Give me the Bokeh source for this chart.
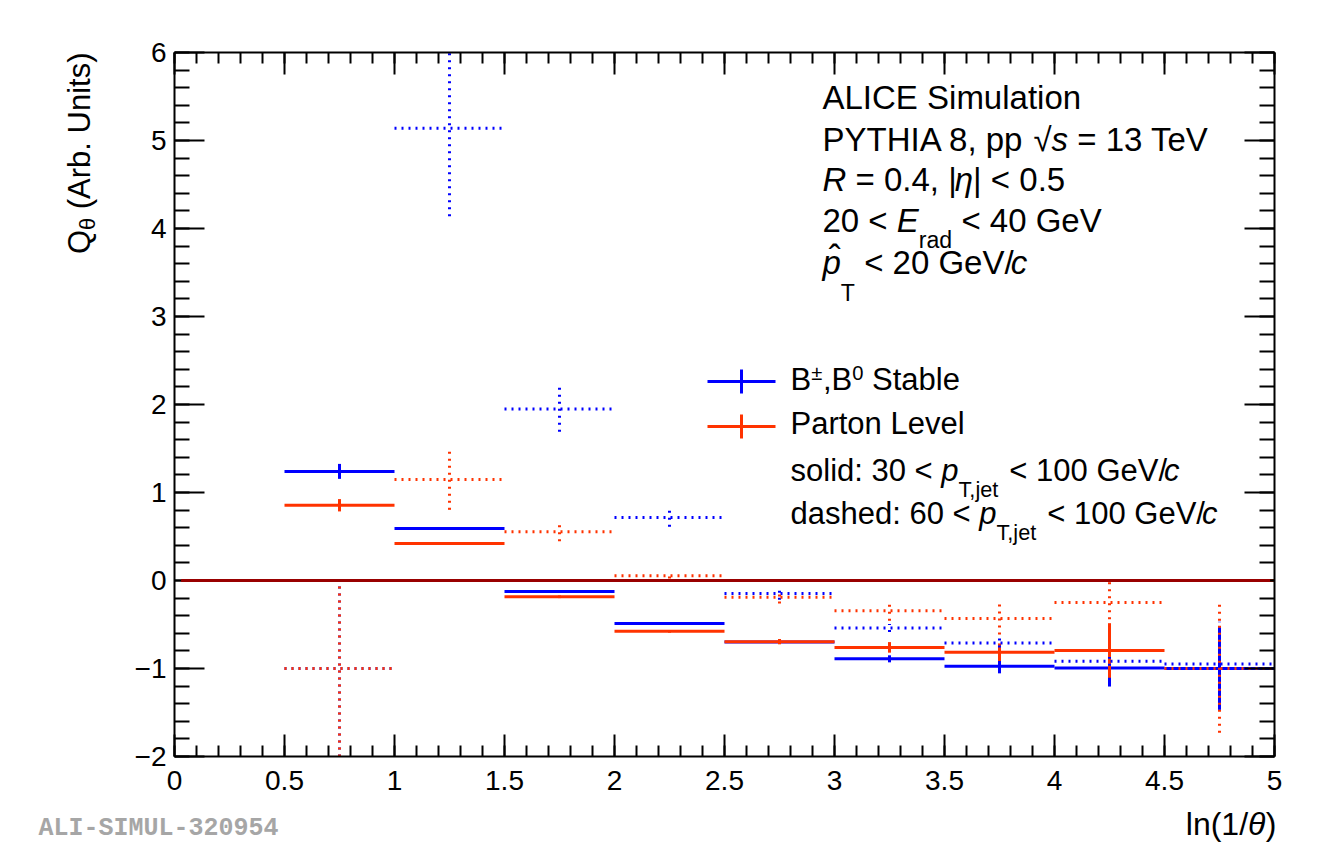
import math
from bokeh.plotting import figure
from bokeh.models import Label, SingleIntervalTicker, LinearAxis, Range1d, ColumnDataSource
from bokeh.embed import file_html
from bokeh.resources import INLINE

# ---------------- data ----------------
bin_lo = [0.5, 1.0, 1.5, 2.0, 2.5, 3.0, 3.5, 4.0, 4.5]
bin_hi = [1.0, 1.5, 2.0, 2.5, 3.0, 3.5, 4.0, 4.5, 5.0]
# B+-,B0 stable, 30 < pT,jet < 100 (solid)
b_solid = [1.24, 0.59, -0.125, -0.49, -0.70, -0.89, -0.975, -0.995, -1.0]
b_solid_err = [0.085, 0.012, 0.015, 0.015, 0.015, 0.04, 0.08, 0.21, 0.47]
# Parton level, 30 < pT,jet < 100 (solid)
r_solid = [0.855, 0.42, -0.185, -0.578, -0.695, -0.76, -0.815, -0.795, 0.0]
r_solid_err = [0.07, 0.012, 0.015, 0.015, 0.03, 0.06, 0.10, 0.31, 0.0]
# B+-,B0 stable, 60 < pT,jet < 100 (dashed)
b_dash = [-1.0, 5.14, 1.95, 0.715, -0.148, -0.54, -0.71, -0.918, -0.95]
b_dash_err = [1.0, 1.0, 0.26, 0.104, 0.07, 0.045, 0.05, 0.05, 0.48]
# Parton level, 60 < pT,jet < 100 (dashed)
r_dash = [-1.0, 1.148, 0.555, 0.053, -0.19, -0.345, -0.432, -0.25, -1.0]
r_dash_err = [1.0, 0.345, 0.11, 0.03, 0.07, 0.113, 0.183, 0.27, 0.73]

x_ticks = [0, 0.5, 1, 1.5, 2, 2.5, 3, 3.5, 4, 4.5, 5]
x_tick_labels = ["0", "0.5", "1", "1.5", "2", "2.5", "3", "3.5", "4", "4.5", "5"]
y_ticks = [-2, -1, 0, 1, 2, 3, 4, 5, 6]
y_tick_labels = ["\u22122", "\u22121", "0", "1", "2", "3", "4", "5", "6"]

BLUE = "#0000ff"
RED = "#ff3300"
ZERO = "#990000"
FONT = "Liberation Sans"

# ---------------- geometry ----------------
W, H = 1334, 845
L, R, T, B = 174, 60, 52, 89          # frame borders in pixels
X0, X1, Y0, Y1 = x_ticks[0], x_ticks[-1], y_ticks[0], y_ticks[-1]
ux = (X1 - X0) / (W - L - R)
uy = (Y1 - Y0) / (H - T - B)
XS, XE = X0 - L * ux, X1 + R * ux
YS, YE = Y0 - B * uy, Y1 + T * uy
BASE_FIX = 0.35   # baseline correction (fraction of font size)


def X(px):
    return XS + px * ux


def Y(py):
    return YE - py * uy


p = figure(width=W, height=H, x_range=Range1d(XS, XE), y_range=Range1d(YS, YE),
           output_backend="svg", toolbar_location=None, min_border=0)
p.xgrid.visible = False
p.ygrid.visible = False
p.outline_line_color = None
p.background_fill_color = "white"
p.border_fill_color = "white"


def style_axis(ax, major, minor, labels, loc, bounds):
    ax.fixed_location = loc
    ax.bounds = bounds
    ax.axis_line_width = 2
    ax.axis_line_color = "black"
    ax.major_tick_line_width = 2
    ax.minor_tick_line_width = 2
    ax.major_tick_line_color = "black"
    ax.minor_tick_line_color = "black"
    ax.major_tick_in = major
    ax.major_tick_out = 0
    ax.minor_tick_in = minor
    ax.minor_tick_out = 0
    ax.major_label_text_font = FONT
    ax.major_label_text_font_size = "28px"
    ax.major_label_text_color = "black" if labels else None


xa = p.xaxis[0]
xa.ticker = SingleIntervalTicker(interval=0.5, num_minor_ticks=5)
style_axis(xa, 22, 11, True, Y0, (X0, X1))
xa.major_label_overrides = {k: v for k, v in zip(x_ticks, x_tick_labels)}
xa.major_label_standoff = 14

ya = p.yaxis[0]
ya.ticker = SingleIntervalTicker(interval=1, num_minor_ticks=5)
style_axis(ya, 30, 15, True, X0, (Y0, Y1))
ya.major_label_overrides = {k: v for k, v in zip(y_ticks, y_tick_labels)}
ya.major_label_standoff = 8

top = LinearAxis(ticker=SingleIntervalTicker(interval=0.5, num_minor_ticks=5))
style_axis(top, 22, 11, False, Y1, (X0, X1))
p.add_layout(top, "above")
right = LinearAxis(ticker=SingleIntervalTicker(interval=1, num_minor_ticks=5))
style_axis(right, 30, 15, False, X1, (Y0, Y1))
p.add_layout(right, "right")

# ---------------- histograms with error bars ----------------
centers = [(a + b) / 2 for a, b in zip(bin_lo, bin_hi)]


def draw(vals, errs, color, dash):
    src = ColumnDataSource(dict(
        x0=bin_lo, x1=bin_hi, xc=centers, y=vals,
        ylo=[max(v - e, Y0) for v, e in zip(vals, errs)],
        yhi=[min(v + e, Y1) for v, e in zip(vals, errs)]))
    p.segment(x0="x0", x1="x1", y0="y", y1="y", source=src,
              line_color=color, line_width=3, line_dash=dash, line_cap="butt")
    p.segment(x0="xc", x1="xc", y0="ylo", y1="yhi", source=src,
              line_color=color, line_width=3, line_dash=dash, line_cap="butt")


draw(b_solid, b_solid_err, BLUE, "solid")
draw(r_solid, r_solid_err, RED, "solid")
draw(b_dash, b_dash_err, BLUE, "2 5")
draw(r_dash, r_dash_err, RED, "2 5")

# zero reference line (drawn above the tick marks)
p.segment(x0=[X0 + 0.03], x1=[X1 - 0.02], y0=[0], y1=[0], line_color=ZERO, line_width=3,
          level="overlay")

# ---------------- text helpers ----------------
AW = {' ': 278, ',': 278, '.': 278, ':': 278, '(': 333, ')': 333, '/': 278, '<': 584,
      '=': 584, '|': 260, '-': 333, '\u00b1': 584, '\u221a': 549, '\u03b8': 556,
      '\u03b7': 556}
for c in "0123456789":
    AW[c] = 556
AW.update(dict(A=667, B=667, C=722, D=722, E=667, F=611, G=778, H=722, I=278, J=500,
               K=667, L=556, M=833, N=722, O=778, P=667, Q=778, R=722, S=667, T=611,
               U=722, V=667, W=944, X=667, Y=667, Z=611))
AW.update(dict(a=556, b=556, c=500, d=556, e=556, f=278, g=556, h=556, i=222, j=222,
               k=500, l=222, m=833, n=556, o=556, p=556, q=556, r=333, s=500, t=278,
               u=556, v=500, w=722, x=500, y=500, z=500))


def tw(s, size):
    return sum(AW.get(ch, 556) for ch in s) / 1000.0 * size


def label(x_px, base_px, text, size, style="normal", color="black", align="left",
          font=FONT):
    p.add_layout(Label(x=X(x_px), y=Y(base_px - BASE_FIX * size), text=text, text_font=font,
                       text_font_size=f"{size:.1f}px", text_font_style=style,
                       text_color=color, text_align=align, text_baseline="alphabetic"))


def rich(x_px, base_px, size, pieces, color="black"):
    """pieces: (text, kind, style, dx) kind in '', 'sub', 'subT', 'sup', 'hat'"""
    x = x_px
    for piece in pieces:
        text = piece[0]
        kind = piece[1] if len(piece) > 1 else ""
        style = piece[2] if len(piece) > 2 else "normal"
        x += piece[3] if len(piece) > 3 else 0
        s = size
        dy = 0
        if kind == "sub":
            s = size * 0.7
            dy = 16
        elif kind == "subT":
            s = size * 0.7
            dy = 27
        elif kind == "sup":
            s = size * 0.65
            dy = -10
        lead = len(text) - len(text.lstrip(" "))
        xs = x + tw(" " * lead, s)
        label(xs, base_px + dy, text.strip(" "), s, style, color)
        if kind == "hat":
            label(x + tw(text, s) / 2 + 3, base_px - 3, "\u02c6", s * 1.1, "normal", color,
                  "center")
        x += tw(text, s)
    return x


# top-right info block
F1 = 33
rich(822, 109, F1, [("ALICE Simulation",)])
rich(822, 151, F1, [("PYTHIA 8, pp ",), ("\u221a",), ("s", "", "italic"), (" = 13 TeV",)])
rich(822, 191, F1, [("R", "", "italic"), (" = 0.4, |",), ("\u03b7", "", "italic", -2), ("| < 0.5",)])
rich(822, 232, F1, [("20 < ",), ("E", "", "italic"), ("rad", "sub"), (" < 40 GeV",)])
rich(822, 274, F1, [("p", "hat", "italic"), ("T", "subT"), (" < 20 GeV/",), ("c", "", "italic", -3)])

# legend
F2 = 31
for color, yy in ((BLUE, 381), (RED, 426)):
    p.segment(x0=[X(707)], x1=[X(775)], y0=[Y(yy)], y1=[Y(yy)], line_color=color, line_width=3)
    p.segment(x0=[X(741)], x1=[X(741)], y0=[Y(yy - 12)], y1=[Y(yy + 12)], line_color=color, line_width=3)
rich(790, 390, F2, [("B",), ("\u00b1", "sup"), (",B",), ("0", "sup"), (" Stable",)])
rich(790, 434, F2, [("Parton Level",)])
rich(790, 481, F2, [("solid: 30 < ",), ("p", "", "italic"), ("T,jet", "sub"),
                    (" < 100 GeV/",), ("c", "", "italic", -3)])
rich(790, 524, F2, [("dashed: 60 < ",), ("p", "", "italic"), ("T,jet", "sub"),
                    (" < 100 GeV/",), ("c", "", "italic", -3)])

# x axis title (right aligned)
F3 = 32
xw = tw("ln(1/", F3) + tw("\u03b8", F3) + tw(")", F3)
rich(1276 - xw, 835, F3, [("ln(1/",), ("\u03b8", "", "italic"), (")",)])

# y axis title (rotated, top aligned)
F4 = 31
qw = tw("Q", F4)
thw = tw("\u03b8", F4 * 0.7)
ystart = 52 + qw + thw + tw(" (Arb. Units)", F4)
bx = 90 - BASE_FIX * F4   # baseline x position (corrected)


def vlabel(x_px, y_px, text, size):
    p.add_layout(Label(x=X(x_px), y=Y(y_px), text=text, angle=math.pi / 2, text_font=FONT,
                       text_font_size=f"{size:.1f}px", text_color="black",
                       text_align="left", text_baseline="alphabetic"))


vlabel(bx, ystart, "Q", F4)
vlabel(bx + 8, ystart - qw, "\u03b8", F4 * 0.7)
vlabel(bx, ystart - qw - thw - tw(" ", F4), "(Arb. Units)", F4)

# watermark
label(38, 837, "ALI-SIMUL-320954", 25, "bold", "#a6a6a6", "left", "Liberation Mono")

open("out.html", "w").write(file_html(p, INLINE))
